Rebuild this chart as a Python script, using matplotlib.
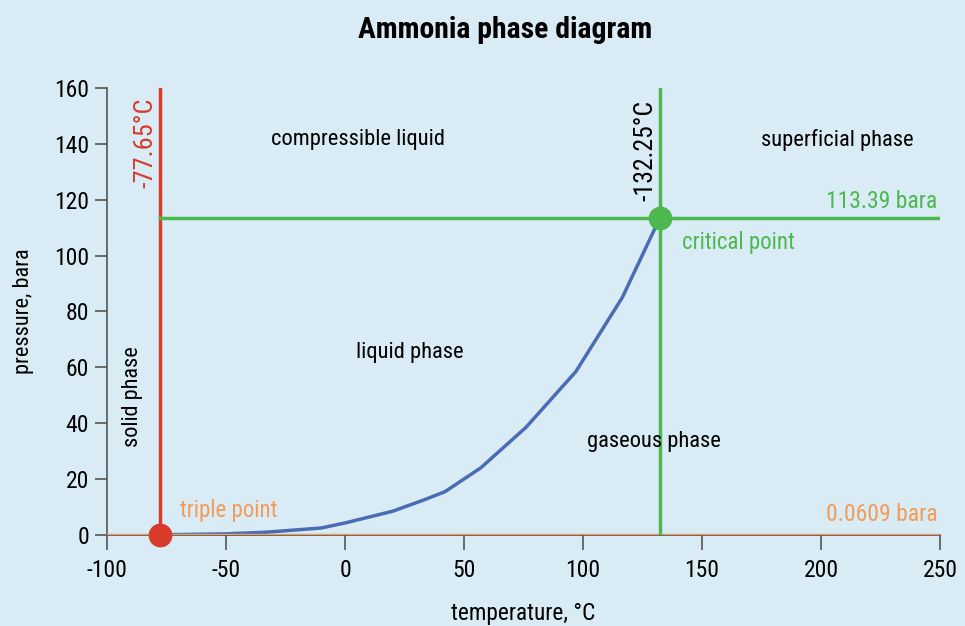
import matplotlib.pyplot as plt

# vapour pressure curve
temps = [-77.65, -50, -33, -10, 0, 20, 33, 42, 57, 76, 97, 116.5, 132.25]
pressures = [0.0609, 0.4, 1.0, 2.5, 4.3, 8.5, 12.5, 15.5, 24, 38.5, 58.5, 85, 113.39]

triple_t = -77.65
triple_p = 0.0609
crit_t = 132.25
crit_p = 113.39

x_ticks = [-100, -50, 0, 50, 100, 150, 200, 250]
y_ticks = [0, 20, 40, 60, 80, 100, 120, 140, 160]

bg = '#d9ecf5'
red = '#d83a2c'
green = '#4cb84f'
orange = '#f39b58'
blue = '#4a6cb4'

plt.rcParams['font.family'] = ['Roboto Condensed', 'News Cycle', 'DejaVu Sans']
plt.rcParams['axes.unicode_minus'] = False

fig = plt.figure(figsize=(9.65, 6.26), dpi=100, facecolor=bg)
ax = fig.add_axes([0.1109, 0.1454, 0.8632, 0.714])
ax.set_facecolor(bg)

ax.plot(temps, pressures, color=blue, lw=2.5, zorder=2)
ax.plot([-100, 250], [triple_p, triple_p], color=orange, lw=2.5, zorder=3)
ax.plot([triple_t, triple_t], [0, 160], color=red, lw=2.5, zorder=3)
ax.plot([triple_t, 250], [crit_p, crit_p], color=green, lw=2.5, zorder=3)
ax.plot([crit_t, crit_t], [0, 160], color=green, lw=2.5, zorder=3)
ax.scatter([triple_t], [triple_p], s=260, color=red, zorder=5, clip_on=False)
ax.scatter([crit_t], [crit_p], s=260, color=green, zorder=5, clip_on=False)

ax.set_xlim(-100, 250)
ax.set_ylim(0, 160)
ax.set_xticks(x_ticks)
ax.set_yticks(y_ticks)
ax.tick_params(axis='x', length=11, width=1.2, color='#555555', labelsize=17, pad=6)
ax.tick_params(axis='y', length=9, width=1.2, color='#555555', labelsize=17, pad=4)
for s in ['top', 'right']:
    ax.spines[s].set_visible(False)
for s in ['left', 'bottom']:
    ax.spines[s].set_color('#555555')
    ax.spines[s].set_linewidth(1.2)

ax.set_xlabel('temperature, °C', fontsize=16.8, labelpad=15)
ax.set_ylabel('pressure, bara', fontsize=16, labelpad=14)
fig.text(0.523, 0.952, 'Ammonia phase diagram', ha='center', va='center',
         fontsize=21.4, fontweight='bold')

ax.text(-84, 156.5, '-77.65°C', rotation=90, color=red, fontsize=19, ha='center', va='top')
ax.text(126, 155.7, '-132.25°C', rotation=90, color='black', fontsize=18.5, ha='center', va='top')
ax.text(5.5, 141.7, 'compressible liquid', fontsize=16.2, ha='center', va='center')
ax.text(207, 141.4, 'superficial phase', fontsize=16.2, ha='center', va='center')
ax.text(249, 119.2, '113.39 bara', color=green, fontsize=17, ha='right', va='center')
ax.text(141.6, 104.8, 'critical point', color=green, fontsize=16.5, ha='left', va='center')
ax.text(27.3, 65.5, 'liquid phase', fontsize=16.2, ha='center', va='center')
ax.text(129.8, 33.6, 'gaseous phase', fontsize=16.2, ha='center', va='center')
ax.text(-89.3, 49.4, 'solid phase', rotation=90, fontsize=16, ha='center', va='center')
ax.text(-69.3, 8.6, 'triple point', color=orange, fontsize=16.5, ha='left', va='center')
ax.text(249, 7.2, '0.0609 bara', color=orange, fontsize=17, ha='right', va='center')

plt.savefig('out.png', dpi=100, facecolor=bg)
